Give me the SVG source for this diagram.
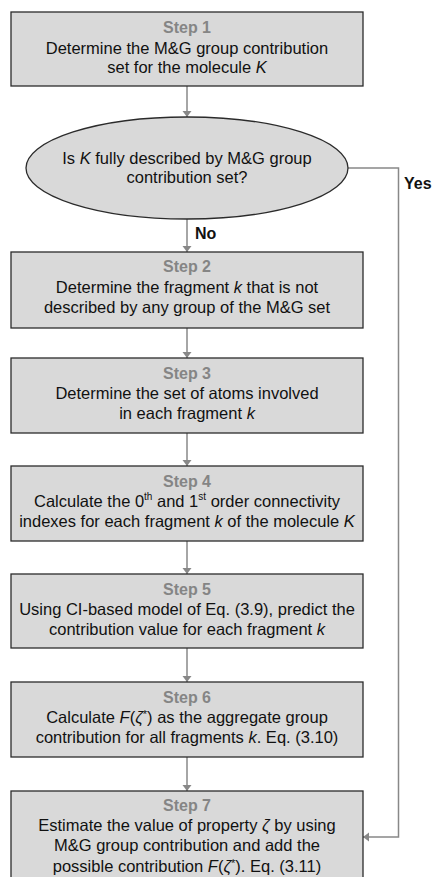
<svg xmlns="http://www.w3.org/2000/svg" width="432" height="877" viewBox="0 0 432 877">
<style>
.box{fill:#d9d9d9;stroke:#2b2b2b;stroke-width:1.3}
.t{font-family:"Liberation Sans",Arial,sans-serif;font-size:16.5px;fill:#111;text-anchor:middle}
.s{font-family:"Liberation Sans",Arial,sans-serif;font-size:16px;font-weight:bold;fill:#858585;text-anchor:middle}
.lbl{font-family:"Liberation Sans",Arial,sans-serif;font-size:16px;font-weight:bold;fill:#111}
.c{fill:none;stroke:#888;stroke-width:1.5}
.i{font-style:italic}
</style>
<defs>
<marker id="ah" markerUnits="userSpaceOnUse" markerWidth="6" markerHeight="10" refX="6" refY="5" orient="auto">
<path d="M0,0.5 L6,5 L0,9.5 z" fill="#888"/>
</marker>
</defs>
<rect x="0" y="0" width="432" height="877" fill="#fff"/>
<g id="connectors">
<line class="c" x1="187" y1="86" x2="187" y2="117" marker-end="url(#ah)"/>
<line class="c" x1="187" y1="219" x2="187" y2="252" marker-end="url(#ah)"/>
<line class="c" x1="187" y1="328" x2="187" y2="358" marker-end="url(#ah)"/>
<line class="c" x1="187" y1="433" x2="187" y2="466" marker-end="url(#ah)"/>
<line class="c" x1="187" y1="541" x2="187" y2="574" marker-end="url(#ah)"/>
<line class="c" x1="187" y1="648" x2="187" y2="682" marker-end="url(#ah)"/>
<line class="c" x1="187" y1="757" x2="187" y2="791" marker-end="url(#ah)"/>
<polyline class="c" points="347,168 398.5,168 398.5,837 363,837" marker-end="url(#ah)"/>
<text class="lbl" x="195" y="239">No</text>
<text class="lbl" x="404" y="189">Yes</text>
</g>
<g id="step1">
<rect class="box" x="11" y="12" width="352" height="74"/>
<text class="s" x="187" y="33">Step 1</text>
<text class="t" x="187" y="54">Determine the M&amp;G group contribution</text>
<text class="t" x="187" y="73">set for the molecule <tspan class="i">K</tspan></text>
</g>
<g id="decision">
<ellipse class="box" cx="187" cy="168" rx="161" ry="51"/>
<text class="t" x="187" y="164">Is <tspan class="i">K</tspan> fully described by M&amp;G group</text>
<text class="t" x="187" y="183">contribution set?</text>
</g>
<g id="step2">
<rect class="box" x="11" y="252" width="352" height="76"/>
<text class="s" x="187" y="272">Step 2</text>
<text class="t" x="187" y="293">Determine the fragment <tspan class="i">k</tspan> that is not</text>
<text class="t" x="187" y="313">described by any group of the M&amp;G set</text>
</g>
<g id="step3">
<rect class="box" x="11" y="358" width="352" height="75"/>
<text class="s" x="187" y="379">Step 3</text>
<text class="t" x="187" y="399">Determine the set of atoms involved</text>
<text class="t" x="187" y="419">in each fragment <tspan class="i">k</tspan></text>
</g>
<g id="step4">
<rect class="box" x="11" y="466" width="352" height="75"/>
<text class="s" x="187" y="487">Step 4</text>
<text class="t" x="187" y="507">Calculate the 0<tspan font-size="10" dy="-7">th</tspan><tspan dy="7"> and 1</tspan><tspan font-size="10" dy="-7">st</tspan><tspan dy="7"> order connectivity</tspan></text>
<text class="t" x="187" y="527">indexes for each fragment <tspan class="i">k</tspan> of the molecule <tspan class="i">K</tspan></text>
</g>
<g id="step5">
<rect class="box" x="11" y="574" width="352" height="74"/>
<text class="s" x="187" y="595">Step 5</text>
<text class="t" x="187" y="615">Using CI-based model of Eq. (3.9), predict the</text>
<text class="t" x="187" y="635">contribution value for each fragment <tspan class="i">k</tspan></text>
</g>
<g id="step6">
<rect class="box" x="11" y="682" width="352" height="75"/>
<text class="s" x="187" y="703">Step 6</text>
<text class="t" x="187" y="723">Calculate <tspan class="i">F</tspan>(<tspan class="i">ζ</tspan><tspan font-size="11" dy="-5">*</tspan><tspan dy="5">) as the aggregate group</tspan></text>
<text class="t" x="187" y="743">contribution for all fragments <tspan class="i">k</tspan>. Eq. (3.10)</text>
</g>
<g id="step7">
<rect class="box" x="11" y="791" width="352" height="100"/>
<text class="s" x="187" y="811">Step 7</text>
<text class="t" x="187" y="831">Estimate the value of property <tspan class="i">ζ</tspan> by using</text>
<text class="t" x="187" y="851">M&amp;G group contribution and add the</text>
<text class="t" x="187" y="872">possible contribution <tspan class="i">F</tspan>(<tspan class="i">ζ</tspan><tspan font-size="11" dy="-5">*</tspan><tspan dy="5">). Eq. (3.11)</tspan></text>
</g>
</svg>
